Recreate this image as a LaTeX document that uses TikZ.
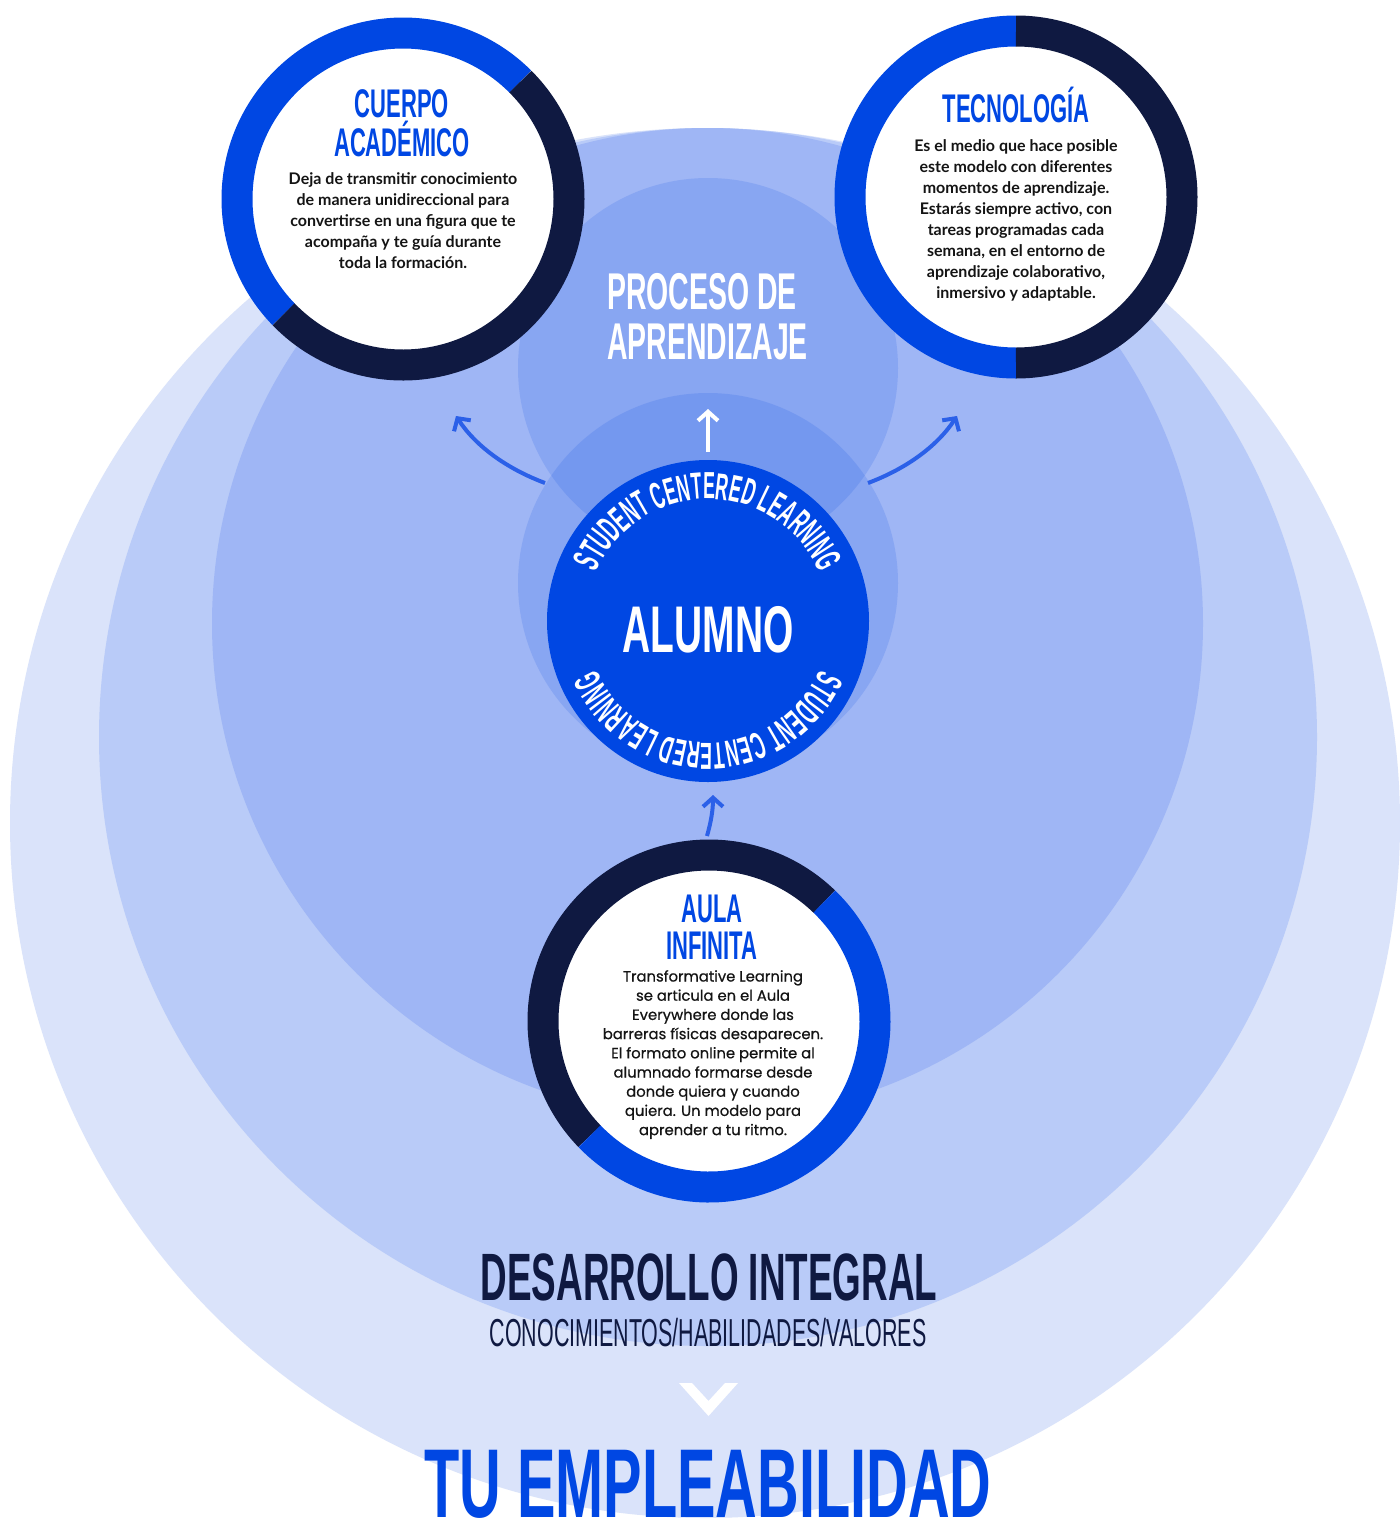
\documentclass[tikz,border=0pt]{standalone}
\usepackage{fontspec}
\usetikzlibrary{arrows.meta,decorations.text}
\newfontfamily\titlef[FakeStretch=0.55]{Liberation Sans}
\newfontfamily\bigf[FakeStretch=0.59]{Liberation Sans}
\newfontfamily\arcf[FakeStretch=0.47]{Liberation Sans}
\newfontfamily\bodyf{Lato}
\newfontfamily\aulaf[FakeBold=0.6]{Poppins}
\definecolor{cone}{HTML}{DAE3FA}
\definecolor{ctwo}{HTML}{B9CBF8}
\definecolor{cthree}{HTML}{9FB6F5}
\definecolor{ublue}{HTML}{0047E3}
\definecolor{navy}{HTML}{0F1941}
\definecolor{arrowblue}{HTML}{2B60E8}
\definecolor{bodytext}{HTML}{141414}
\tikzset{
  ringbg/.style={circle, fill=white, minimum size=332pt, inner sep=0pt},
  ringseg/.style={line width=31pt},
  ttl/.style={inner sep=0pt, align=center, text=ublue, font=\titlef\bfseries\fontsize{40}{38}\selectfont},
  body/.style={inner sep=0pt, align=center, text=bodytext, font=\bodyf\bfseries\fontsize{16}{21}\selectfont},
  aulabody/.style={inner sep=0pt, align=center, text=bodytext, font=\aulaf\fontsize{14.8}{19.2}\selectfont},
  arr/.style={draw=arrowblue, line width=4pt, -{Straight Barb[length=9pt,width=20pt]}},
  lens/.style={fill=ublue, fill opacity=0.14},
}
\begin{document}
\begin{tikzpicture}[x=1pt,y=-1pt]
\path[use as bounding box, fill=white] (0,0) rectangle (1400,1524);
% background circles
\fill[cone] (705,823) circle (695);
\fill[ctwo] (708,737) circle (609);
\fill[cthree] (707.5,623.5) circle (495.5);
\fill[lens] (708,368) circle (190);
\fill[lens] (708,583) circle (190);
% arrows
\coordinate (l0) at (545,483); \coordinate (l1) at (456,416);
\coordinate (r0) at (868,483); \coordinate (r1) at (957,416);
\coordinate (u0) at (708,452); \coordinate (u1) at (708,409);
\coordinate (b0) at (707,836); \coordinate (b1) at (713,795);
\draw[arr] (l0) .. controls (505,468) and (475,445) .. (l1);
\draw[arr] (r0) .. controls (908,468) and (938,445) .. (r1);
\draw[arr] (b0) .. controls (711,822) and (713,810) .. (b1);
\draw[line width=4pt, white, -{Straight Barb[length=9pt,width=20pt]}] (u0) -- (u1);
% alumno
\node[circle, fill=ublue, minimum size=322pt, inner sep=0pt] (alumno) at (708,621) {};
\node[inner sep=0pt, anchor=base, text=white, font=\bigf\bfseries\fontsize{66}{70}\selectfont] (alumnotxt) at (708,652) {ALUMNO};
\path[decorate, decoration={text along path, text color=white, text align=center,
  text={|\arcf\bfseries\fontsize{37.7}{40}\selectfont|STUDENT CENTERED LEARNING}}]
  (alumno.center) ++(-170:122) arc[start angle=-170, end angle=-10, radius=122];
\path[decorate, decoration={text along path, text color=white, text align=center,
  text={|\arcf\bfseries\fontsize{37.7}{40}\selectfont|STUDENT CENTERED LEARNING}}]
  (alumno.center) ++(10:122) arc[start angle=10, end angle=170, radius=122];
% proceso
\node[inner sep=0pt, align=left, anchor=north west, text=white, font=\titlef\bfseries\fontsize{51.7}{50}\selectfont] (proceso) at (607,273)
  {PROCESO DE\\APRENDIZAJE};
% cuerpo academico
\node[ringbg] (cuerpo) at (403,199) {};
\draw[ringseg, ublue] (cuerpo.center) ++(-224:166) arc[start angle=-224, end angle=-45, radius=166];
\draw[ringseg, navy] (cuerpo.center) ++(-45:166) arc[start angle=-45, end angle=136, radius=166];
\node[ttl, anchor=north, font=\titlef\bfseries\fontsize{40}{39}\selectfont] (cuerpottl) at (402,89) {CUERPO\\ACADÉMICO};
\node[body, anchor=north] (cuerpotxt) at (403,172) {Deja de transmitir conocimiento\\de manera unidireccional para\\convertirse en una figura que te\\acompaña y te guía durante\\toda la formación.};
% tecnologia
\node[ringbg] (tecno) at (1016,197) {};
\draw[ringseg, ublue] (tecno.center) ++(-270:166) arc[start angle=-270, end angle=-90, radius=166];
\draw[ringseg, navy] (tecno.center) ++(-90:166) arc[start angle=-90, end angle=90, radius=166];
\node[ttl, anchor=base] (tecnottl) at (1016,122) {TECNOLOGÍA};
\node[body, anchor=north] (tecnotxt) at (1016,139) {Es el medio que hace posible\\este modelo con diferentes\\momentos de aprendizaje.\\Estarás siempre activo, con\\tareas programadas cada\\semana, en el entorno de\\aprendizaje colaborativo,\\inmersivo y adaptable.};
% aula infinita
\node[ringbg] (aula) at (709,1021) {};
\draw[ringseg, navy] (aula.center) ++(-224:166) arc[start angle=-224, end angle=-46, radius=166];
\draw[ringseg, ublue] (aula.center) ++(-46:166) arc[start angle=-46, end angle=136, radius=166];
\node[ttl, anchor=north, font=\titlef\bfseries\fontsize{40}{37}\selectfont] (aulattl) at (712,895) {AULA\\INFINITA};
\node[aulabody, anchor=north] (aulatxt) at (713,970) {Transformative Learning\\se articula en el Aula\\Everywhere donde las\\barreras físicas desaparecen.\\El formato online permite al\\alumnado formarse desde\\donde quiera y cuando\\quiera. Un modelo para\\aprender a tu ritmo.};
% bottom texts
\node[inner sep=0pt, anchor=base, text=navy, font=\titlef\bfseries\fontsize{67}{70}\selectfont] (desarrollo) at (709,1300) {DESARROLLO INTEGRAL};
\node[inner sep=0pt, anchor=base, text=navy, font=\titlef\fontsize{39}{40}\selectfont] (conoc) at (708,1346) {CONOCIMIENTOS/HABILIDADES/VALORES};
\fill[white] (679,1383) -- (692,1383) -- (708.5,1401) -- (725,1383) -- (738,1383) -- (708.5,1416) -- cycle;
\node[inner sep=0pt, anchor=base, text=ublue, font=\bigf\bfseries\fontsize{97.8}{100}\selectfont] (emple) at (708,1517) {TU EMPLEABILIDAD};
\end{tikzpicture}
\end{document}
